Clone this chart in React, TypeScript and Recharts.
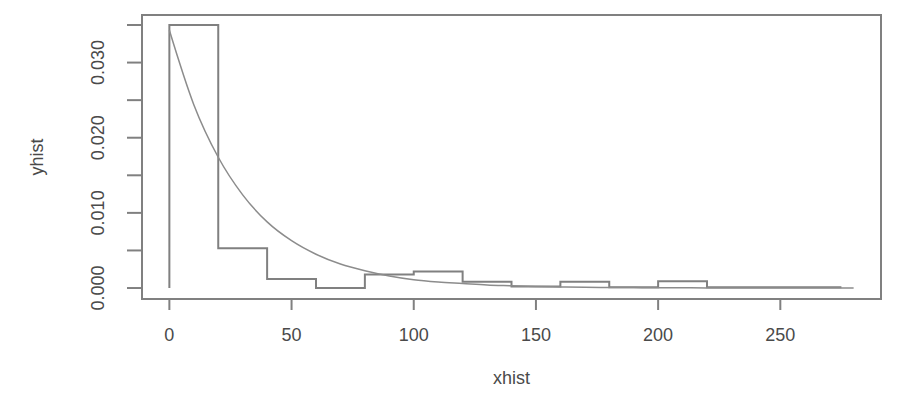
import {
  ComposedChart,
  Line,
  XAxis,
  YAxis,
  ReferenceArea,
} from "recharts";

// histogram drawn as steps (x = left edge of each bin)
const histX = [0, 0, 20, 40, 60, 80, 100, 120, 140, 160, 180, 200, 220, 275];
const histY = [
  0, 0.035, 0.0053, 0.0012, 0, 0.0018, 0.0022, 0.00085, 0.0002, 0.00085,
  0.0001, 0.0009, 0.0001, 0.0001,
];

// density curve
const curveX = [
  0, 10, 20, 30, 40, 50, 60, 70, 80, 90, 100, 110, 120, 130, 140, 150, 160,
  170, 180, 190, 200, 210, 220, 230, 240, 250, 260, 270, 280,
];
const curveY = [
  0.0343, 0.0244, 0.0174, 0.0124, 0.0088, 0.0063, 0.0045, 0.0032, 0.0023,
  0.0016, 0.0011, 0.0008, 0.0006, 0.0004, 0.0003, 0.0002, 0.00015, 0.0001,
  0.00008, 0.00006, 0.00004, 0.00003, 0.00002, 0.00002, 0.00001, 0.00001,
  0.00001, 0, 0,
];

const xTicks = [0, 50, 100, 150, 200, 250];
const yTicks = [0, 0.005, 0.01, 0.015, 0.02, 0.025, 0.03, 0.035];
const yLabels = ["0.000", "0.010", "0.020", "0.030"];

const X_DOMAIN: [number, number] = [-11.2, 291.2];
const Y_DOMAIN: [number, number] = [-0.00146, 0.03633];

const FONT = "'Liberation Sans', Arial, sans-serif";
const TEXT = "#4a4a4a";
const LINE = "#808080";

const histData = histX.map((x, i) => ({ x, y: histY[i] }));
const curveData = curveX.map((x, i) => ({ x, y: curveY[i] }));

function XTick(props: any) {
  const { x, payload } = props;
  return (
    <text
      x={x}
      y={341}
      textAnchor="middle"
      fontSize={18}
      fontFamily={FONT}
      fill={TEXT}
    >
      {payload.value}
    </text>
  );
}

function YTick(props: any) {
  const { y, payload } = props;
  const label = yLabels.find((l) => Math.abs(parseFloat(l) - payload.value) < 1e-9);
  if (!label) return <g />;
  return (
    <text
      x={98}
      y={y}
      textAnchor="middle"
      dominantBaseline="central"
      transform={`rotate(-90, 98, ${y})`}
      fontSize={18}
      fontFamily={FONT}
      fill={TEXT}
    >
      {label}
    </text>
  );
}

export default function App() {
  return (
    <div style={{ width: 903, height: 393, background: "#fff" }}>
      <style>{`body{margin:0}`}</style>
      <ComposedChart
        width={903}
        height={393}
        margin={{ top: 15, right: 22, bottom: 0, left: 0 }}
      >
        <XAxis
          type="number"
          dataKey="x"
          domain={X_DOMAIN}
          ticks={xTicks}
          allowDataOverflow
          height={94}
          axisLine={false}
          tickSize={11}
          tickLine={{ stroke: LINE, strokeWidth: 2 }}
          tick={<XTick />}
          label={{
            content: () => (
              <text
                x={511.5}
                y={384}
                textAnchor="middle"
                fontSize={18}
                fontFamily={FONT}
                fill={TEXT}
              >
                xhist
              </text>
            ),
          }}
        />
        <YAxis
          type="number"
          domain={Y_DOMAIN}
          ticks={yTicks}
          allowDataOverflow
          width={142}
          axisLine={false}
          tickSize={15}
          tickLine={{ stroke: LINE, strokeWidth: 2 }}
          tick={<YTick />}
          label={{
            content: () => (
              <text
                x={37}
                y={157}
                textAnchor="middle"
                dominantBaseline="central"
                transform="rotate(-90, 37, 157)"
                fontSize={18}
                fontFamily={FONT}
                fill={TEXT}
              >
                yhist
              </text>
            ),
          }}
        />
        <ReferenceArea
          x1={X_DOMAIN[0]}
          x2={X_DOMAIN[1]}
          y1={Y_DOMAIN[0]}
          y2={Y_DOMAIN[1]}
          fill="none"
          stroke={LINE}
          strokeWidth={2}
          ifOverflow="extendDomain"
        />
        <Line
          data={histData}
          dataKey="y"
          type="stepAfter"
          stroke={LINE}
          strokeWidth={2}
          dot={false}
          isAnimationActive={false}
        />
        <Line
          data={curveData}
          dataKey="y"
          type="monotone"
          stroke="#8c8c8c"
          strokeWidth={1.5}
          dot={false}
          isAnimationActive={false}
        />
      </ComposedChart>
    </div>
  );
}
